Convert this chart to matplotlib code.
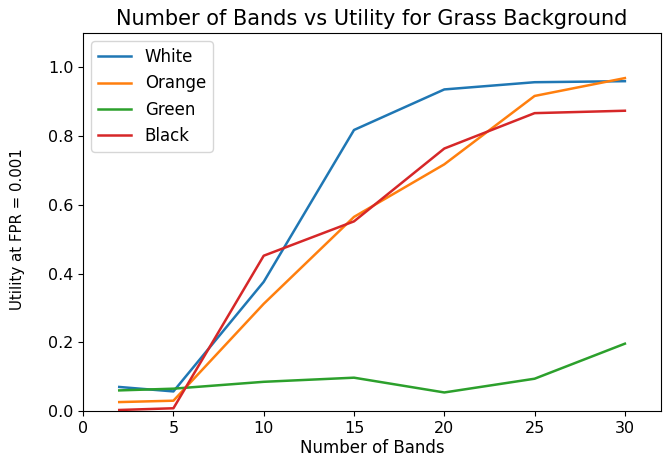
import matplotlib
matplotlib.use("Agg")
import matplotlib.pyplot as plt

bands = [2, 5, 10, 15, 20, 25, 30]
white = [0.070, 0.057, 0.376, 0.818, 0.936, 0.957, 0.960]
orange = [0.026, 0.030, 0.312, 0.565, 0.718, 0.917, 0.969]
green = [0.060, 0.065, 0.085, 0.097, 0.054, 0.094, 0.196]
black = [0.003, 0.008, 0.452, 0.552, 0.764, 0.867, 0.874]

series = [("White", white, "#1f77b4"), ("Orange", orange, "#ff7f0e"),
          ("Green", green, "#2ca02c"), ("Black", black, "#d62728")]

fig = plt.figure(figsize=(6.65, 4.66), dpi=100)
ax = fig.add_axes([0.125, 0.118, 0.869, 0.811])
for name, vals, c in series:
    ax.plot(bands, vals, color=c, label=name, linewidth=1.8)
ax.set_xlim(0, 32)
ax.set_ylim(0, 1.1)
ax.set_xticks([0, 5, 10, 15, 20, 25, 30])
ax.set_yticks([0.0, 0.2, 0.4, 0.6, 0.8, 1.0])
ax.tick_params(labelsize=11.5)
ax.set_xlabel("Number of Bands", fontsize=12, labelpad=2)
ax.set_ylabel("Utility at FPR = 0.001", fontsize=10.8)
ax.yaxis.set_label_coords(-0.1, 0.48)
ax.set_title("Number of Bands vs Utility for Grass Background", fontsize=15)
ax.legend(loc="upper left", fontsize=12)
fig.savefig("out.png", dpi=100)
